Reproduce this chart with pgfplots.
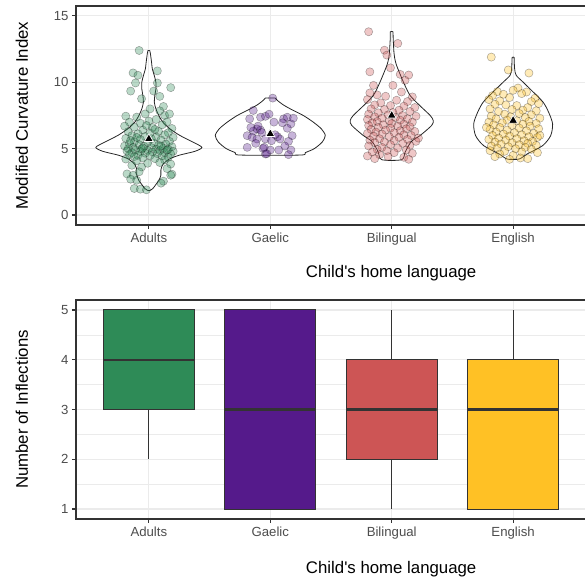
\documentclass[border=0pt]{standalone}
\usepackage{fontspec}
\setmainfont{Liberation Sans}
\usepackage{pgfplots}
\pgfplotsset{compat=1.18}
\usepgfplotslibrary{statistics}

\definecolor{adultc}{HTML}{2E8B57}
\definecolor{gaelc}{HTML}{551A8B}
\definecolor{bilc}{HTML}{CD5555}
\definecolor{engc}{HTML}{FFC125}
\definecolor{grey20}{HTML}{333333}
\definecolor{grey30}{HTML}{4D4D4D}
\definecolor{grid92}{HTML}{EBEBEB}

\pgfplotsset{
  panel/.style={
    scale only axis, width=510bp, height=219bp,
    xmin=0.4, xmax=4.6,
    xtick={1,2,3,4}, xticklabels={Adults,Gaelic,Bilingual,English},
    tick pos=left, tick align=outside, major tick length=4bp,
    minor tick length=0pt,
    tick style={draw=grey20, line width=1.1bp},
    axis line style={draw=grey20, line width=1.1bp},
    xmajorgrids, ymajorgrids, yminorgrids,
    major grid style={draw=grid92, line width=1.1bp},
    minor grid style={draw=grid92, line width=0.55bp},
    minor y tick num=1,
    tick label style={font=\fontsize{13.2bp}{15bp}\selectfont, text=grey30},
    label style={font=\fontsize{16.8bp}{19bp}\selectfont, text=black},
    /pgf/number format/assume math mode=true,
    ylabel style={at={(axis description cs:-0.106,0.5)}, anchor=center},
  },
  pts/.style={only marks, mark=*, mark size=4.1bp,
    mark options={fill=#1, fill opacity=0.33, draw=black, draw opacity=0.33, line width=0.5bp}},
  vio/.style={draw=black!85, line width=0.8bp, smooth, tension=0.45, mark=none},
  bx/.style={draw=grey20, line width=1bp, fill=#1,
    boxplot/every median/.style={line width=2.2bp, draw=grey20},
    boxplot/every whisker/.style={line width=1bp, draw=grey20}},
}

\pgfplotstableread{
x y
0.92 12.40
0.87 10.71
0.91 10.53
1.07 10.86
0.89 9.95
1.07 9.95
1.18 9.60
0.85 9.34
1.04 9.34
1.09 8.94
0.94 8.76
1.12 8.18
1.01 8.00
1.09 7.85
0.81 7.45
0.90 7.38
0.97 7.62
1.13 7.50
1.17 7.62
1.06 7.20
0.84 7.00
1.00 7.08
1.15 7.02
0.93 6.92
1.11 6.80
0.80 6.70
0.88 6.62
1.03 6.60
1.19 6.52
0.95 6.40
1.08 6.30
0.83 6.28
1.16 6.20
0.91 6.12
1.01 6.18
1.13 6.05
0.86 5.98
0.97 5.92
1.06 5.88
1.20 5.85
0.81 5.78
0.93 5.70
1.10 5.66
1.17 5.55
0.88 5.52
0.99 5.48
1.04 5.42
0.84 5.38
1.14 5.35
0.92 5.30
1.08 5.26
0.80 5.20
0.96 5.18
1.19 5.15
0.87 5.10
1.02 5.08
1.12 5.04
0.83 5.00
0.94 4.98
1.06 4.96
1.16 4.95
0.89 4.90
0.99 4.88
1.09 4.86
0.82 4.82
1.20 4.80
0.93 4.78
1.03 4.75
1.13 4.72
0.86 4.70
0.97 4.66
1.07 4.62
1.18 4.60
0.84 4.55
0.91 4.50
1.01 4.48
1.11 4.45
0.88 4.40
1.16 4.35
0.95 4.30
1.05 4.25
0.81 4.22
1.13 4.15
0.90 4.10
1.09 3.96
0.99 3.90
1.18 3.84
0.86 3.75
0.94 3.62
1.15 3.50
0.82 3.10
0.87 3.00
0.92 3.26
1.19 3.08
1.18 3.00
0.85 2.70
0.90 2.62
1.12 2.55
0.88 2.00
0.93 1.95
0.98 1.90
1.10 2.40
0.85 5.62
1.02 5.75
1.10 5.20
0.95 5.05
1.15 4.90
0.90 5.85
1.05 6.45
0.98 6.75
}\adults

\pgfplotstableread{
x y
2.02 8.81
1.86 7.88
1.92 7.37
1.96 7.44
1.83 7.25
1.99 7.60
2.11 7.25
2.14 7.37
2.17 6.87
2.14 6.54
1.89 6.49
1.92 6.40
1.86 6.33
1.93 6.22
1.81 5.98
2.06 5.90
2.18 5.98
1.85 5.85
1.89 5.73
1.96 5.73
2.01 5.60
2.08 5.73
2.15 5.55
1.94 5.02
2.00 4.90
2.07 4.90
2.17 4.90
1.96 4.60
2.15 4.55
1.81 5.10
1.95 5.10
1.97 4.62
2.04 6.05
1.90 6.70
2.10 6.95
2.19 7.30
1.88 5.40
2.12 5.20
1.84 6.60
2.03 7.00
}\gaelic

\pgfplotstableread{
x y
2.81 13.81
3.05 12.93
2.94 12.42
2.96 12.05
2.99 11.09
2.82 10.79
3.07 10.60
3.14 10.55
3.11 10.15
2.85 9.77
3.01 9.77
3.08 9.27
2.82 9.20
2.88 9.05
2.95 8.95
3.17 8.90
2.80 8.70
3.04 8.65
3.13 8.55
2.91 8.45
2.86 8.30
2.99 8.25
3.10 8.20
3.19 8.10
2.83 8.00
2.94 7.95
3.06 7.90
3.15 7.80
2.89 7.70
3.01 7.72
2.81 7.60
2.97 7.55
3.09 7.50
3.20 7.45
2.86 7.40
3.03 7.35
2.92 7.30
3.13 7.25
2.80 7.20
3.07 7.15
2.98 7.10
2.88 7.05
3.17 7.00
2.84 6.95
3.00 6.90
3.10 6.85
2.93 6.80
2.81 6.75
3.05 6.70
3.15 6.65
2.89 6.60
2.99 6.55
3.12 6.50
2.83 6.45
2.95 6.40
3.07 6.35
3.19 6.30
2.87 6.25
3.02 6.20
2.80 6.15
2.92 6.10
3.10 6.05
3.16 6.00
2.85 5.95
2.98 5.90
3.06 5.85
2.90 5.75
3.13 5.70
2.82 5.65
3.02 5.60
3.20 5.55
2.94 5.50
2.86 5.45
3.09 5.40
2.99 5.30
3.15 5.25
2.81 5.20
2.92 5.10
3.05 5.05
2.88 4.95
3.12 4.90
2.96 4.85
2.84 4.75
3.02 4.70
3.17 4.65
2.90 4.55
2.80 4.45
2.97 4.40
3.10 4.35
2.86 4.25
3.14 4.20
3.22 5.80
}\biling

\pgfplotstableread{
x y
3.82 11.90
3.96 10.93
4.13 10.70
4.04 9.57
3.87 9.30
4.11 9.27
4.18 8.80
3.83 9.00
3.92 9.10
4.00 9.40
4.07 9.15
3.80 8.70
3.89 8.60
3.97 8.85
4.15 8.55
4.21 8.40
3.85 8.35
3.94 8.30
4.03 8.25
4.12 8.10
3.81 8.00
3.99 7.95
4.08 7.90
4.19 7.85
3.88 7.80
3.93 7.60
4.05 7.65
4.15 7.55
3.82 7.45
3.98 7.40
4.10 7.35
4.22 7.30
3.86 7.25
3.95 7.15
4.03 7.10
4.13 7.05
3.80 7.00
3.91 6.95
4.19 6.90
4.08 6.85
3.84 6.80
3.99 6.75
4.14 6.70
3.89 6.60
4.05 6.55
4.21 6.50
3.81 6.45
3.95 6.40
4.11 6.35
3.86 6.25
4.01 6.20
4.17 6.15
3.92 6.10
4.07 6.05
3.83 6.00
3.97 5.95
4.13 5.90
4.20 5.85
3.88 5.80
4.03 5.75
3.80 5.70
3.94 5.65
4.09 5.60
4.16 5.55
3.85 5.50
3.99 5.45
4.12 5.40
3.90 5.35
4.05 5.30
4.19 5.25
3.82 5.20
3.96 5.15
4.10 5.10
3.87 5.05
4.02 5.00
4.15 4.95
3.81 4.85
3.93 4.80
4.07 4.75
4.20 4.70
3.89 4.60
4.00 4.50
3.97 4.20
4.06 4.30
4.12 4.25
3.85 4.40
4.22 6.00
3.78 6.60
}\english

\begin{document}
\begin{tikzpicture}
\path[use as bounding box] (0,0) rectangle (585bp,581bp);

% Curvature index: violins, jittered observations and group means
\begin{axis}[panel, at={(76bp,356bp)}, anchor=south west,
  ymin=-0.75, ymax=15.75, ytick={0,5,10,15},
  ylabel={Modified Curvature Index},
  xlabel={Child\textquotesingle s home language},
  xlabel style={at={(axis description cs:0.618,-0.219)}, anchor=center}]
\addplot[vio] coordinates {(1.007,12.40) (1.012,12.20) (1.021,11.60) (1.029,11.00) (1.045,10.50) (1.058,10.00) (1.058,9.50) (1.049,9.00) (1.045,8.50) (1.058,8.00) (1.082,7.50) (1.115,7.00) (1.173,6.50) (1.255,6.00) (1.362,5.50) (1.437,5.10) (1.379,4.80) (1.247,4.50) (1.165,4.20) (1.115,3.80) (1.099,3.40) (1.099,3.00) (1.082,2.60) (1.058,2.30) (1.033,2.00) (1.008,1.85)
 (0.992,1.85) (0.967,2.00) (0.942,2.30) (0.918,2.60) (0.901,3.00) (0.901,3.40) (0.885,3.80) (0.835,4.20) (0.753,4.50) (0.621,4.80) (0.563,5.10) (0.638,5.50) (0.745,6.00) (0.827,6.50) (0.885,7.00) (0.918,7.50) (0.942,8.00) (0.955,8.50) (0.951,9.00) (0.942,9.50) (0.942,10.00) (0.955,10.50) (0.971,11.00) (0.979,11.60) (0.988,12.20) (0.993,12.40) (1.007,12.40)};
\addplot[vio] coordinates {(2.041,8.81) (2.058,8.64) (2.107,8.30) (2.165,8.00) (2.272,7.50) (2.354,7.00) (2.420,6.50) (2.453,6.00) (2.428,5.50) (2.362,5.00) (2.288,4.70) (2.247,4.52)
 (1.753,4.52) (1.712,4.70) (1.638,5.00) (1.572,5.50) (1.547,6.00) (1.580,6.50) (1.646,7.00) (1.728,7.50) (1.835,8.00) (1.893,8.30) (1.942,8.64) (1.959,8.81) (2.041,8.81)};
\addplot[vio] coordinates {(3.011,13.81) (3.012,13.30) (3.015,12.80) (3.018,12.30) (3.025,11.80) (3.039,11.30) (3.074,10.50) (3.107,9.80) (3.152,9.00) (3.231,8.25) (3.317,7.50) (3.342,7.12) (3.329,6.75) (3.235,6.00) (3.169,5.60) (3.140,5.25) (3.111,4.75) (3.082,4.17)
 (2.918,4.17) (2.889,4.75) (2.860,5.25) (2.831,5.60) (2.765,6.00) (2.671,6.75) (2.658,7.12) (2.683,7.50) (2.769,8.25) (2.848,9.00) (2.893,9.80) (2.926,10.50) (2.961,11.30) (2.975,11.80) (2.982,12.30) (2.985,12.80) (2.988,13.30) (2.989,13.81) (3.011,13.81)};
\addplot[vio] coordinates {(4.008,11.87) (4.012,11.04) (4.025,10.53) (4.080,10.03) (4.165,9.27) (4.247,8.50) (4.292,7.75) (4.325,6.87) (4.309,5.98) (4.243,5.23) (4.115,4.60) (4.049,4.22)
 (3.951,4.22) (3.885,4.60) (3.757,5.23) (3.691,5.98) (3.675,6.87) (3.708,7.75) (3.753,8.50) (3.835,9.27) (3.920,10.03) (3.975,10.53) (3.988,11.04) (3.992,11.87) (4.008,11.87)};
\addplot[pts=adultc] table {\adults};
\addplot[pts=gaelc] table {\gaelic};
\addplot[pts=bilc] table {\biling};
\addplot[pts=engc] table {\english};
\addplot[only marks, mark=triangle*, mark size=5.2bp,
  mark options={fill=black, draw=white, line width=0.7bp}]
  coordinates {(1,5.73) (2,6.11) (3,7.50) (4,7.12)};
\end{axis}

% Number of inflections: box plots
\begin{axis}[panel, at={(76bp,62bp)}, anchor=south west,
  ymin=0.8, ymax=5.2, ytick={1,2,3,4,5},
  ylabel={Number of Inflections},
  xlabel={Child\textquotesingle s home language},
  xlabel style={at={(axis description cs:0.618,-0.228)}, anchor=center},
  boxplot/draw direction=y, boxplot/box extend=0.75, boxplot/whisker extend=0]
\addplot[bx=adultc, boxplot prepared={lower whisker=2, lower quartile=3, median=4, upper quartile=5, upper whisker=5, draw position=1}] coordinates {};
\addplot[bx=gaelc, boxplot prepared={lower whisker=1, lower quartile=1, median=3, upper quartile=5, upper whisker=5, draw position=2}] coordinates {};
\addplot[bx=bilc, boxplot prepared={lower whisker=1, lower quartile=2, median=3, upper quartile=4, upper whisker=5, draw position=3}] coordinates {};
\addplot[bx=engc, boxplot prepared={lower whisker=1, lower quartile=1, median=3, upper quartile=4, upper whisker=5, draw position=4}] coordinates {};
\end{axis}
\end{tikzpicture}
\end{document}
